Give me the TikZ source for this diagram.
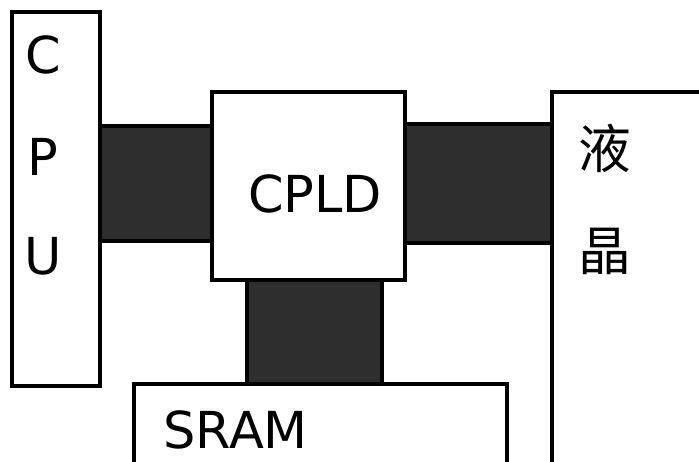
\documentclass[tikz,border=0pt]{standalone}
\usepackage{fontspec}
\setmainfont{DejaVu Sans}
\newfontfamily\cjk{Noto Sans CJK SC}
\usetikzlibrary{positioning, backgrounds}
\tikzset{
  unit/.style={rectangle, draw, line width=2pt, fill=white, inner sep=0pt, outer sep=0pt, anchor=north west},
  bus/.style={rectangle, draw, line width=2pt, fill=black!82, inner sep=0pt, outer sep=0pt, anchor=north west},
  tag/.style={font=\fontsize{29}{29}\selectfont, inner sep=0pt},
  cjktag/.style={font=\cjk\fontsize{30}{30}\selectfont, inner sep=0pt}
}

\begin{document}
\begin{tikzpicture}[x=0.02cm, y=-0.02cm]
  \useasboundingbox (0,0) rectangle (699,462);
  \clip (0,0) rectangle (699,462);
  % blocks
  \node[unit, minimum width=1.76cm, minimum height=7.48cm] (cpu) at (12,12) {};
  \node[unit, minimum width=3.86cm, minimum height=3.76cm] (cpld) at (212,92) {};
  \node[unit, minimum width=3.6cm, minimum height=8cm] (lcd) at (552,92) {};
  \node[unit, minimum width=7.46cm, minimum height=2.4cm] (sram) at (134,384) {};
  % buses
  \begin{scope}[on background layer]
    \node[bus, minimum width=2.24cm, minimum height=2.3cm] (busl) at (cpu.north east |- 0,126) {};
    \node[bus, minimum width=2.94cm, minimum height=2.38cm] (busr) at (cpld.north east |- 0,124) {};
    \node[bus, minimum width=2.7cm, minimum height=2.08cm] (busd) at (cpld.south west -| 247,0) {};
  \end{scope}
  % labels
  \node[tag] (c) at (43,55) {C};
  \node[tag] (p) at (43,157) {P};
  \node[tag] (u) at (43,256) {U};
  \node[tag] (cpldtext) at (315,194) {CPLD};
  \node[tag, anchor=west] (sramtext) at (163,430) {SRAM};
  \node[cjktag] (ye) at (605,148) {液};
  \node[cjktag] (jing) at (605,251) {晶};
\end{tikzpicture}
\end{document}
